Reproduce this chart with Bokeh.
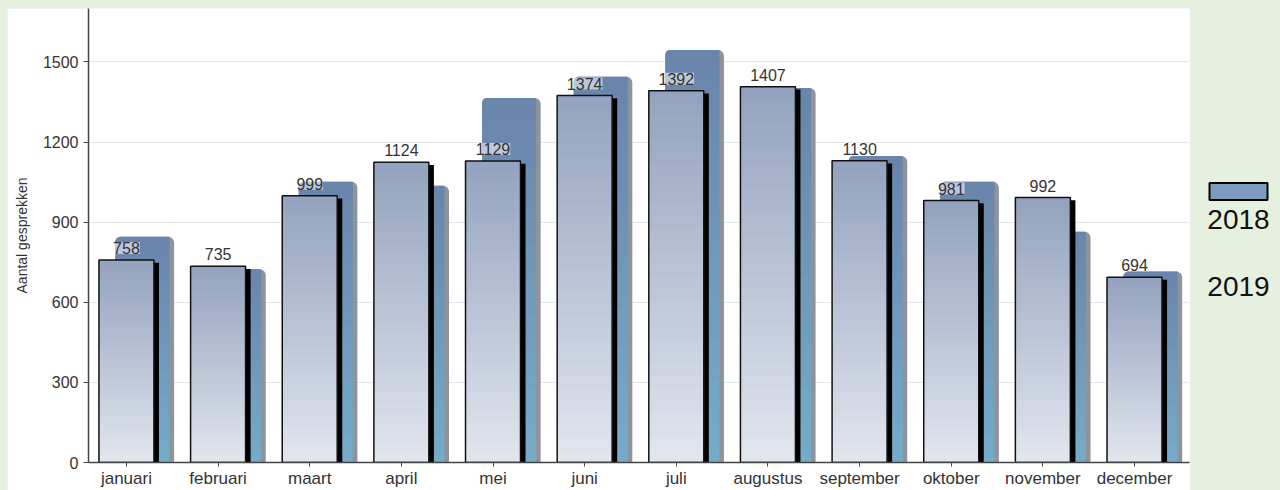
from bokeh.plotting import figure
from bokeh.models import Range1d, ColumnDataSource, LabelSet, FixedTicker
from bokeh.layouts import row
from bokeh.core.properties import value
from bokeh.embed import file_html
from bokeh.resources import INLINE

# ---------------- data ----------------
months = ["januari", "februari", "maart", "april", "mei", "juni",
          "juli", "augustus", "september", "oktober", "november", "december"]
series = ["2018", "2019"]
v2018 = [845, 724, 1051, 1036, 1365, 1444, 1545, 1402, 1148, 1051, 864, 715]
v2019 = [758, 735, 999, 1124, 1129, 1374, 1392, 1407, 1130, 981, 992, 694]
y_ticks = [0, 300, 600, 900, 1200, 1500]

# ---------------- styling ----------------
GREEN = "#e5f1de"
FONT = "Liberation Sans"
N = 30

def mix(c1, c2, t):
    a = [int(c1[i:i + 2], 16) for i in (1, 3, 5)]
    b = [int(c2[i:i + 2], 16) for i in (1, 3, 5)]
    return "#%02x%02x%02x" % tuple(round(a[j] + (b[j] - a[j]) * t) for j in range(3))

def slices(vals, offset, bottom_col, top_col):
    xs, bs, ts, cs = [], [], [], []
    top_x, top_b, top_t, top_c = [], [], [], []
    for i, v in enumerate(vals):
        step = v / N
        for k in range(N):
            b = step * k
            t = step * (k + 1)
            c = mix(bottom_col, top_col, (k + 0.5) / N)
            if k == N - 1:
                top_x.append(i + offset); top_b.append(b); top_t.append(t); top_c.append(c)
            else:
                xs.append(i + offset); bs.append(b); ts.append(t + 0.5 * step); cs.append(c)
    return (ColumnDataSource(dict(x=xs, bottom=bs, top=ts, color=cs)),
            ColumnDataSource(dict(x=top_x, bottom=top_b, top=top_t, color=top_c)))

W = 1183
H = 482
BOTTOM = 28
p = figure(width=W, height=H, x_range=Range1d(-0.414, 11.60), y_range=Range1d(0, 1700),
           toolbar_location=None, output_backend="svg",
           min_border_left=81, min_border_right=1, min_border_top=0, min_border_bottom=BOTTOM)
p.background_fill_color = "white"
p.border_fill_color = "white"
p.outline_line_color = None
p.xgrid.grid_line_color = None
p.ygrid.grid_line_color = "#e2e6ee"
p.ygrid.grid_line_width = 1

# back series (2018)
BACK_OFF = 0.20
BACK_W = 0.64
src_gray = ColumnDataSource(dict(x=[i + BACK_OFF for i in range(len(v2018))], top=v2018))
p.vbar(x="x", top="top", bottom=0, width=BACK_W, source=src_gray,
       fill_color="#8f949b", line_color=None, border_radius=[5, 6, 0, 0])
body_w = BACK_W - 0.05
body_off = BACK_OFF - 0.025
bsrc, btop = slices(v2018, body_off, "#75acca", "#6a84ab")
p.vbar(x="x", top="top", bottom="bottom", width=body_w, source=bsrc,
       fill_color="color", line_color=None)
p.vbar(x="x", top="top", bottom="bottom", width=body_w, source=btop,
       fill_color="color", line_color=None, border_radius=[5, 0, 0, 0])

# front series (2019)
FRONT_W = 0.60
FRONT_OFF = 0.0
shadow_src = ColumnDataSource(dict(x=[i + FRONT_OFF + FRONT_W / 2 + 0.025 for i in range(len(v2019))],
                                   top=[v - 10 for v in v2019]))
p.vbar(x="x", top="top", bottom=0, width=0.06, source=shadow_src,
       fill_color="black", line_color=None)
fsrc, ftop = slices(v2019, FRONT_OFF, "#e2e6ee", "#93a2be")
p.vbar(x="x", top="top", bottom="bottom", width=FRONT_W, source=fsrc,
       fill_color="color", line_color=None)
p.vbar(x="x", top="top", bottom="bottom", width=FRONT_W, source=ftop,
       fill_color="color", line_color=None)
outline_src = ColumnDataSource(dict(x=[i + FRONT_OFF for i in range(len(v2019))], top=v2019))
p.vbar(x="x", top="top", bottom=0, width=FRONT_W, source=outline_src,
       fill_color=None, line_color="#111111", line_width=1.5)

# value labels
lab_src = ColumnDataSource(dict(x=[i for i in range(len(v2019))], y=v2019,
                                text=[str(v) for v in v2019]))
labels = LabelSet(x="x", y="y", text="text", source=lab_src, y_offset=6,
                  text_align="center", text_baseline="bottom",
                  text_font=value(FONT), text_font_size="16px", text_color="#333333",
                  background_fill_color="white", background_fill_alpha=0.55)
p.add_layout(labels)

# axes
p.xaxis.ticker = FixedTicker(ticks=list(range(len(months))))
p.xaxis.major_label_overrides = {i: m for i, m in enumerate(months)}
p.xaxis.major_label_text_font = FONT
p.xaxis.major_label_text_font_size = "17px"
p.xaxis.major_label_text_color = "#333333"
p.xaxis.major_label_standoff = 2
p.xaxis.major_tick_out = 4
p.xaxis.major_tick_in = 0
p.xaxis.minor_tick_line_color = None
p.xaxis.axis_line_color = "#444444"
p.xaxis.axis_line_width = 1.5
p.xaxis.major_tick_line_color = "#444444"

p.yaxis.ticker = FixedTicker(ticks=y_ticks)
p.yaxis.major_label_text_font = FONT
p.yaxis.major_label_text_font_size = "16px"
p.yaxis.major_label_text_color = "#333333"
p.yaxis.major_label_standoff = 5
p.yaxis.major_tick_out = 5
p.yaxis.major_tick_in = 0
p.yaxis.minor_tick_line_color = None
p.yaxis.axis_line_color = "#444444"
p.yaxis.axis_line_width = 1.5
p.yaxis.major_tick_line_color = "#444444"
p.yaxis.axis_label = "Aantal gesprekken"
p.yaxis.axis_label_text_font = FONT
p.yaxis.axis_label_text_font_size = "14px"
p.yaxis.axis_label_text_font_style = "normal"
p.yaxis.axis_label_text_color = "#333333"
p.yaxis.axis_label_standoff = 10

# legend panel (its frame is aligned with the main plot's frame in the row)
LW = 1280 - 7 - W
FRAME_H = H - BOTTOM
lf = figure(width=LW, height=H, x_range=Range1d(0, LW), y_range=Range1d(FRAME_H, 0),
            toolbar_location=None, output_backend="svg",
            min_border_left=0, min_border_right=0, min_border_top=0, min_border_bottom=BOTTOM)
lf.axis.visible = False
lf.grid.visible = False
lf.outline_line_color = None
lf.background_fill_color = GREEN
lf.border_fill_color = GREEN
lf.rect(x=[48], y=[183], width=58, height=17, fill_color="#7d9cc2",
        line_color="black", line_width=2)
lf.text(x=[48, 48], y=[211, 278], text=series, text_align="center", text_baseline="middle",
        text_font=value(FONT), text_font_size="28px", text_color="#111111")

layout = row(p, lf, spacing=0, margin=(8, 0, 0, 7))
html = file_html(layout, INLINE)
html = html.replace("</head>",
                    "<style>html, body { background-color: %s; }</style>\n</head>" % GREEN, 1)
open("out.html", "w").write(html)
